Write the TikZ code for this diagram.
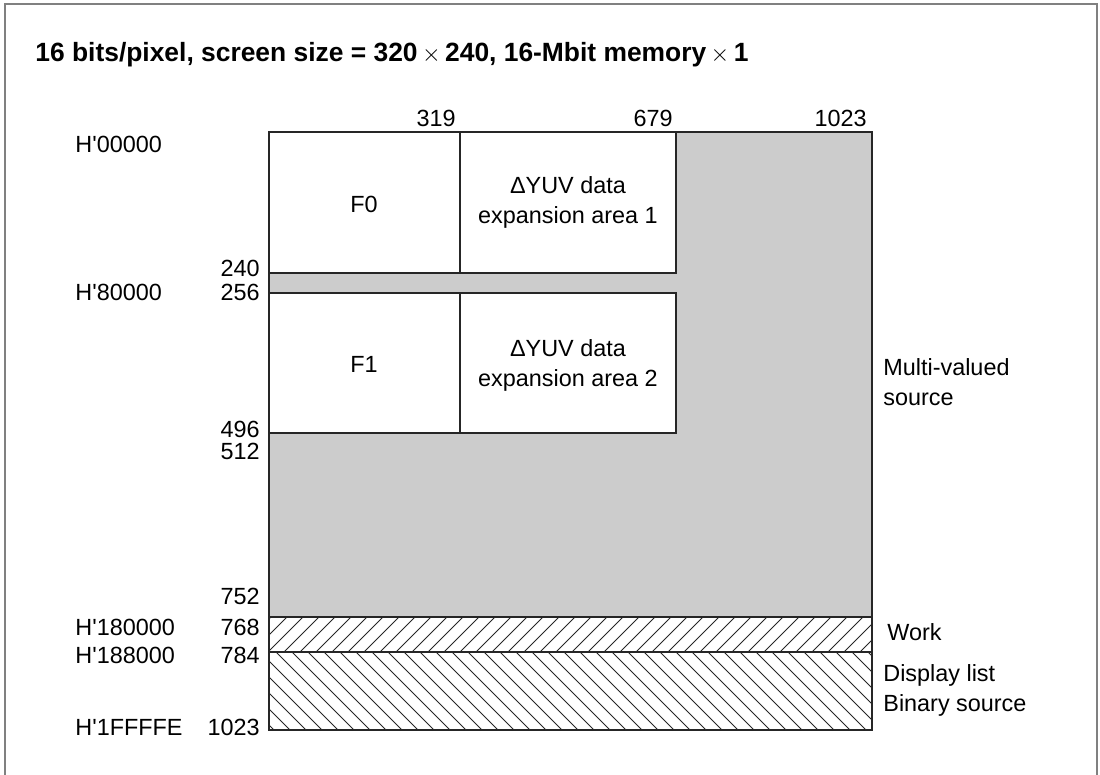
\documentclass[tikz,border=0pt]{standalone}
\usepackage{fontspec}
\setmainfont{Liberation Sans}
\usetikzlibrary{positioning}
\definecolor{memgray}{HTML}{CCCCCC}
\definecolor{framegray}{HTML}{808080}
\newcommand{\hq}{\textquotesingle}

\begin{document}
\begin{tikzpicture}[x=0.5pt,y=-0.5pt,
  lbl/.style={font=\fontsize{11.7}{15}\selectfont,inner sep=0pt},
  numlbl/.style={lbl,anchor=east},
  addrlbl/.style={lbl,anchor=west},
  sidelbl/.style={lbl,anchor=west,align=left},
  area/.style={draw=black!85,line width=0.6pt},
  hatchline/.style={black!85,line width=0.4pt}]
\useasboundingbox (0,0) rectangle (1100,775);
\draw[framegray,line width=1pt] (5,775)--(5,4)--(1097,4)--(1097,775);
\node[lbl,anchor=west,font=\fontsize{13.2}{16}\selectfont\bfseries] (title) at (35,55)
  {16 bits/pixel, screen size = 320\,$\times$\,240, 16-Mbit memory\,$\times$\,1};

% memory map
\fill[memgray] (269,132) rectangle (872,617);
\foreach \xa/\xb/\ya/\yb in {269/460/132/273,460/676/132/273,269/460/293/433,460/676/293/433}
  \draw[area,fill=white] (\xa,\ya) rectangle (\xb,\yb);
\begin{scope}
\clip (269,617) rectangle (872,652);
\foreach \x in {220,236,...,880} \draw[hatchline] (\x,652)--(\x+35,617);
\end{scope}
\begin{scope}
\clip (269,652) rectangle (872,730);
\foreach \x in {180,196,...,880} \draw[hatchline] (\x,652)--(\x+78,730);
\end{scope}
\draw[area] (269,132) rectangle (872,730);
\draw[area] (269,617)--(872,617) (269,652)--(872,652);

\node[lbl] (f0) at (364,204) {F0};
\node[lbl,align=center] (yuv1) at (568,202) {ΔYUV data\\expansion area 1};
\node[lbl] (f1) at (364,364) {F1};
\node[lbl,align=center] (yuv2) at (568,365) {ΔYUV data\\expansion area 2};

\node[numlbl] (c319) at (456,118) {319};
\node[numlbl] (c679) at (673,118) {679};
\node[numlbl] (c1023) at (867,118) {1023};

\foreach \n/\y in {240/268,256/292,496/429,512/451,752/596,768/627,784/655,1023/727}
  \node[numlbl] (r\n) at (260,\y) {\n};
\foreach \a/\y in {00000/144,80000/292,180000/627,188000/655,1FFFFE/727}
  \node[addrlbl] (h\a) at (75,\y) {H\hq\a};

\node[sidelbl] (multi) at (883,382) {Multi-valued\\source};
\node[sidelbl] (work) at (887,632) {Work};
\node[sidelbl] (dlist) at (883,690) {Display list\\Binary source};
\end{tikzpicture}
\end{document}
